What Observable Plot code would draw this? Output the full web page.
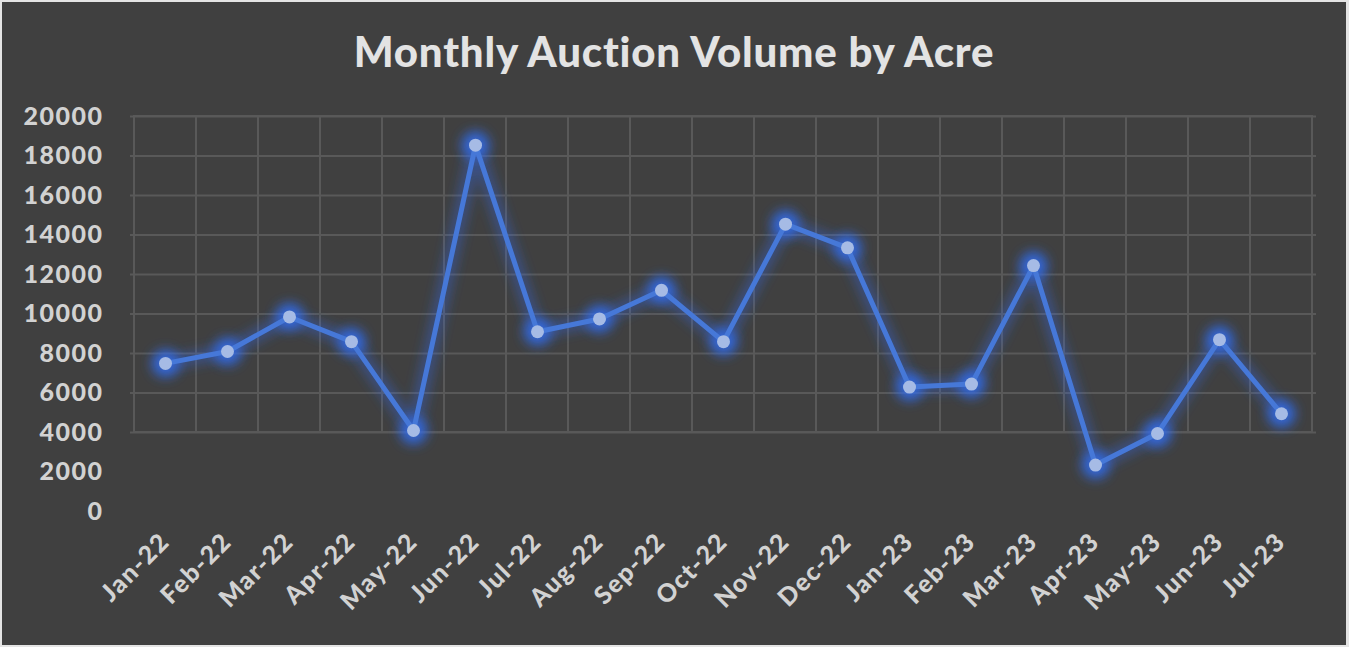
<!DOCTYPE html>
<html>
<head>
<meta charset="utf-8">
<script src="https://cdn.jsdelivr.net/npm/d3@7"></script>
<script src="https://cdn.jsdelivr.net/npm/@observablehq/plot@0.6"></script>
<style>
  html, body { margin: 0; padding: 0; background: #e4e4e4; width: 1349px; height: 647px; overflow: hidden; }
  #card { position: absolute; left: 2px; top: 2px; width: 1344px; height: 643px; background: #404040; }
  #title { position: absolute; left: 0; width: 1344px; top: 29px; text-align: center; font-family: "Lato Black", "Lato Heavy", Lato, sans-serif; font-weight: 900; font-size: 42px; line-height: 40px; color: #e3e3e3; letter-spacing: 0.8px; }
  #chart { position: absolute; left: 0; top: 88px; }
  #chart svg text { letter-spacing: 1.5px; }
</style>
</head>
<body>
<div id="card">
  <div id="title">Monthly Auction Volume by Acre</div>
  <div id="chart"></div>
</div>
<script>
const months = ["Jan-22","Feb-22","Mar-22","Apr-22","May-22","Jun-22","Jul-22","Aug-22","Sep-22","Oct-22","Nov-22","Dec-22","Jan-23","Feb-23","Mar-23","Apr-23","May-23","Jun-23","Jul-23"];
const volumes = [7500, 8100, 9850, 8600, 4100, 18550, 9100, 9750, 11200, 8600, 14550, 13350, 6300, 6450, 12450, 2350, 3950, 8700, 4950];
const yTicks = [0, 2000, 4000, 6000, 8000, 10000, 12000, 14000, 16000, 18000, 20000];

const gridFloor = 4000;
const gridTop = 20000;
const data = months.map((m, i) => ({month: m, value: volumes[i]}));

const gridColor = "#595959";
const lineColor = "#4678d8";
const glowColor = "#2f6df0";
const dotColor = "#a6bbe5";

const chart = Plot.plot({
  width: 1344,
  height: 555,
  marginTop: 26,
  marginBottom: 134,
  marginLeft: 128,
  marginRight: 30,
  style: {background: "transparent", color: "#d2d2d2", fontFamily: "\"Lato Black\", \"Lato Heavy\", Lato, sans-serif", fontSize: "25px", fontWeight: "900", overflow: "visible"},
  x: {type: "band", domain: months, padding: 0, label: null, tickSize: 0, tickRotate: -45, tickPadding: 26},
  y: {domain: [0, 20000], ticks: yTicks, label: null, tickSize: 0, tickPadding: 27, tickFormat: d => String(d)},
  marks: [
    Plot.barY(months, {x: d => d, y1: gridFloor, y2: gridTop, fill: "none", stroke: gridColor, strokeWidth: 2, inset: 0}),
    Plot.ruleY(yTicks.filter(t => t >= gridFloor), {stroke: gridColor, strokeWidth: 2}),
    Plot.line(data, {x: "month", y: "value", stroke: glowColor, strokeWidth: 14, strokeOpacity: 0.38}),
    Plot.dot(data, {x: "month", y: "value", r: 14, fill: glowColor, fillOpacity: 0.8, stroke: "none"}),
    Plot.line(data, {x: "month", y: "value", stroke: lineColor, strokeWidth: 5, strokeLinejoin: "miter"}),
    Plot.dot(data, {x: "month", y: "value", r: 6.5, fill: dotColor, stroke: "none"})
  ]
});

const ns = "http://www.w3.org/2000/svg";
const defs = document.createElementNS(ns, "defs");
defs.innerHTML = '<filter id="glowblur" x="-50%" y="-50%" width="200%" height="200%" filterUnits="objectBoundingBox"><feGaussianBlur stdDeviation="6"/></filter>';
chart.insertBefore(defs, chart.firstChild);
const lines = chart.querySelectorAll('g[aria-label="line"]');
const dots = chart.querySelectorAll('g[aria-label="dot"]');
if (lines[0]) lines[0].setAttribute("filter", "url(#glowblur)");
if (dots[0]) dots[0].setAttribute("filter", "url(#glowblur)");

document.getElementById("chart").appendChild(chart);
</script>
</body>
</html>
